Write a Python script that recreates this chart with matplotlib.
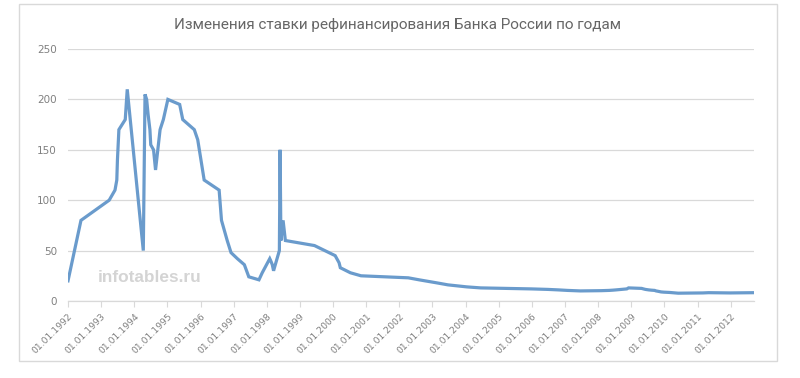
import matplotlib
matplotlib.use("Agg")
import matplotlib.pyplot as plt
import matplotlib.dates as mdates
from matplotlib.patches import Rectangle
import datetime as dt

title = "Изменения ставки рефинансирования Банка России по годам"
dates = ["01.01.1992", "23.05.1992", "30.03.1993", "02.06.1993", "22.06.1993", "29.06.1993",
         "15.07.1993", "23.09.1993", "15.10.1993", "10.04.1994", "29.04.1994", "17.05.1994",
         "02.06.1994", "22.06.1994", "01.07.1994", "01.08.1994", "23.08.1994", "12.10.1994",
         "17.11.1994", "06.01.1995", "16.05.1995", "19.06.1995", "24.10.1995", "01.12.1995",
         "10.02.1996", "24.07.1996", "19.08.1996", "21.10.1996", "02.12.1996", "10.02.1997",
         "28.04.1997", "16.06.1997", "06.10.1997", "11.11.1997", "02.02.1998", "17.02.1998",
         "02.03.1998", "16.03.1998", "19.05.1998", "27.05.1998", "05.06.1998", "29.06.1998",
         "24.07.1998", "10.06.1999", "24.01.2000", "07.03.2000", "21.03.2000", "10.07.2000",
         "04.11.2000", "09.04.2002", "07.08.2002", "17.02.2003", "21.06.2003", "15.01.2004",
         "15.06.2004", "26.12.2005", "26.06.2006", "23.10.2006", "29.01.2007", "19.06.2007",
         "04.02.2008", "29.04.2008", "10.06.2008", "14.07.2008", "12.11.2008", "01.12.2008",
         "24.04.2009", "14.05.2009", "05.06.2009", "13.07.2009", "10.08.2009", "15.09.2009",
         "30.09.2009", "30.10.2009", "25.11.2009", "28.12.2009", "24.02.2010", "29.03.2010",
         "30.04.2010", "01.06.2010", "28.02.2011", "03.05.2011", "26.12.2011", "14.09.2012"]
rates = [20, 80, 100, 110, 120, 140,
         170, 180, 210, 50, 205, 200,
         185, 170, 155, 150, 130, 170,
         180, 200, 195, 180, 170, 160,
         120, 110, 80, 60, 48, 42,
         36, 24, 21, 28, 42, 39,
         36, 30, 50, 150, 60, 80,
         60, 55, 45, 38, 33, 28,
         25, 23, 21, 18, 16, 14,
         13, 12, 11.5, 11, 10.5, 10,
         10.25, 10.5, 10.75, 11, 12, 13,
         12.5, 12, 11.5, 11, 10.75, 10.5,
         10, 9.5, 9, 8.75, 8.5, 8.25,
         8, 7.75, 8, 8.25, 8, 8.25]
years = list(range(1992, 2013))
y_ticks = [0, 50, 100, 150, 200, 250]
watermark = "infotables.ru"

x = [dt.datetime.strptime(d, "%d.%m.%Y") for d in dates]

fig = plt.figure(figsize=(8.0, 3.78), dpi=100)
fig.patches.append(Rectangle((19/800, 1-361/378), (777-19)/800, (361-4)/378,
                             transform=fig.transFigure, fill=False,
                             edgecolor="#d9d9d9", linewidth=1.0))
ax = fig.add_axes([68/800, 1-301/378, (754-68)/800, (301-49)/378])

ax.plot(x, rates, color="#6a9bcc", linewidth=2.3, solid_joinstyle="miter")

ax.set_xlim(x[0], x[-1])
ax.set_ylim(0, 250)
ax.set_yticks(y_ticks)
ax.grid(axis="y", color="#d9d9d9", linewidth=0.9)
ax.set_axisbelow(True)

ticks = [dt.datetime(yr, 1, 1) for yr in years]
ax.set_xticks(ticks)
ax.set_xticklabels([t.strftime("%d.%m.%Y") for t in ticks], rotation=45,
                   ha="right", va="top", rotation_mode="anchor")

for s in ["top", "right", "left"]:
    ax.spines[s].set_visible(False)
ax.spines["bottom"].set_color("#d9d9d9")
ax.spines["bottom"].set_linewidth(0.9)
ax.tick_params(axis="x", colors="#808080", labelsize=6.7, length=4, width=0.8,
               color="#d9d9d9", pad=4)
ax.tick_params(axis="y", colors="#808080", labelsize=7.5, length=0, pad=8)

fig.text(398/800, 1-25/378, title, ha="center", va="center", fontsize=11,
         color="#666666", family=["Roboto", "DejaVu Sans"])
fig.text(98/800, 1-278/378, watermark, ha="left", va="center", fontsize=12.4,
         color="#d4d4d4", fontweight="bold", family=["Liberation Sans", "DejaVu Sans"])

fig.savefig("out.png", dpi=100)
